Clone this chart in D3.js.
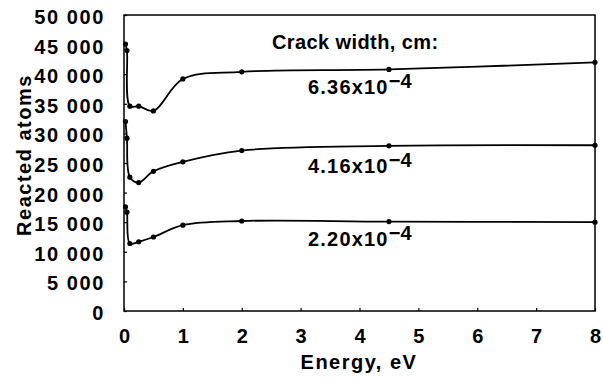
<!DOCTYPE html>
<html><head><meta charset="utf-8">
<script src="https://cdn.jsdelivr.net/npm/d3@7"></script>
<style>
body{margin:0;background:#fff;}
svg text{font-family:"Liberation Sans",Arial,sans-serif;font-weight:bold;fill:#000;}
</style></head>
<body><svg id="c" width="603" height="381"></svg>
<script>
const energy = [0.025, 0.05, 0.1, 0.25, 0.5, 1, 2, 4.5, 8];
const width636 = [45100, 44000, 34600, 34600, 33800, 39200, 40400, 40800, 42000];
const width416 = [32000, 29200, 22600, 21700, 23600, 25200, 27100, 27900, 28000];
const width220 = [17600, 16700, 11400, 11700, 12500, 14500, 15200, 15100, 15000];
const seriesLabels = ["6.36x10", "4.16x10", "2.20x10"];
const seriesLabelY = [36650, 23300, 10900];
const xTicks = [0,1,2,3,4,5,6,7,8];
const yTicks = [0,5000,10000,15000,20000,25000,30000,35000,40000,45000,50000];

const svg = d3.select("#c");
const L=124, R=595, T=15, B=311;
const x = d3.scaleLinear().domain([0,8]).range([L,R]);
const y = d3.scaleLinear().domain([0,50000]).range([B,T]);

svg.append("rect").attr("x",L).attr("y",T).attr("width",R-L).attr("height",B-T)
  .attr("fill","none").attr("stroke","#000").attr("stroke-width",1.5);

const fmt = v => v===0 ? "0" : d3.format(",")(v).replace(/,/g," ");
const yAxis = svg.append("g").attr("transform",`translate(${L},0)`)
  .call(d3.axisLeft(y).tickValues(yTicks).tickSize(3).tickFormat(fmt).tickPadding(16));
yAxis.select(".domain").remove();
yAxis.selectAll("line").attr("transform","translate(3,0)").attr("stroke-width",1.2);
yAxis.selectAll("text").attr("font-size",20).attr("letter-spacing",1.6).attr("dy","0.42em");

const xAxis = svg.append("g").attr("transform",`translate(0,${B})`)
  .call(d3.axisBottom(x).tickValues(xTicks).tickSize(3).tickPadding(10));
xAxis.select(".domain").remove();
xAxis.selectAll("line").attr("transform","translate(0,-3)").attr("stroke-width",1.2);
xAxis.selectAll("text").attr("font-size",20).attr("y",32).attr("dy",0);

svg.append("text").attr("x",359).attr("y",369).attr("text-anchor","middle").attr("font-size",20)
  .attr("letter-spacing",1.5).text("Energy, eV");
svg.append("text").attr("transform","translate(31,155) rotate(-90)").attr("text-anchor","middle")
  .attr("font-size",20).attr("letter-spacing",1.5).text("Reacted atoms");

const series = [width636, width416, width220];
const line = d3.line().x((d,i)=>x(energy[i])).y(d=>y(d)).curve(d3.curveCatmullRom.alpha(0.5));
series.forEach((s,k)=>{
  svg.append("path").attr("d",line(s)).attr("fill","none").attr("stroke","#000").attr("stroke-width",1.8);
  svg.append("g").selectAll("circle").data(s).join("circle")
    .attr("cx",(d,i)=>x(energy[i])).attr("cy",d=>y(d)).attr("r",2.6).attr("fill","#000");
  const t = svg.append("text").attr("x",308).attr("y",y(seriesLabelY[k])).attr("font-size",20).attr("letter-spacing",1.2);
  t.append("tspan").text(seriesLabels[k]);
  t.append("tspan").attr("dy",-6).attr("letter-spacing",0).text("\u2212");
  t.append("tspan").text("4");
});
svg.append("text").attr("x",272).attr("y",49).attr("font-size",20).attr("letter-spacing",0.4).text("Crack width, cm:");
</script></body></html>
